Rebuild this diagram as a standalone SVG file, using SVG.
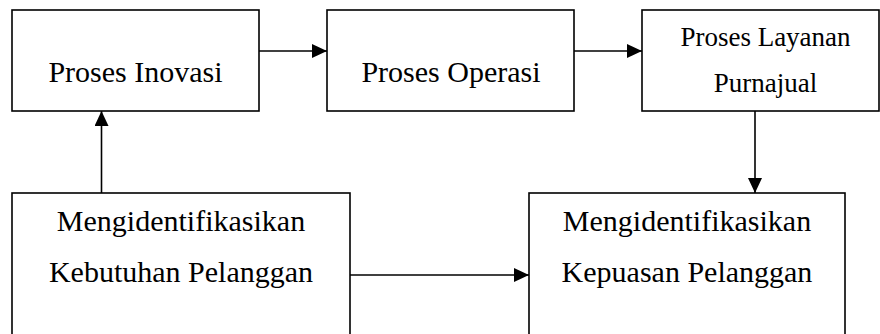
<svg xmlns="http://www.w3.org/2000/svg" width="880" height="334" viewBox="0 0 880 334">
<style>
.box{fill:#fff;stroke:#000;stroke-width:1.6}
.t{font-family:'Liberation Serif','Times New Roman','DejaVu Serif',serif;fill:#000;text-anchor:middle}
.line{stroke:#000;stroke-width:1.6;fill:none}
</style>
<defs>
<marker id="ah" markerUnits="userSpaceOnUse" markerWidth="16" markerHeight="14" refX="15" refY="7" orient="auto">
<path d="M0,0 L15,7 L0,14 Z" fill="#000"/>
</marker>
</defs>
<rect x="0" y="0" width="880" height="334" fill="#fff"/>
<g id="connectors">
<line class="line" x1="259" y1="51" x2="327" y2="51" marker-end="url(#ah)"/>
<line class="line" x1="574" y1="51" x2="642" y2="51" marker-end="url(#ah)"/>
<line class="line" x1="755" y1="111" x2="755" y2="193" marker-end="url(#ah)"/>
<line class="line" x1="101.5" y1="193" x2="101.5" y2="111" marker-end="url(#ah)"/>
<line class="line" x1="350" y1="275" x2="529" y2="275" marker-end="url(#ah)"/>
</g>
<g id="inovasi">
<rect class="box" x="12" y="10" width="247" height="101"/>
<text class="t" font-family="Liberation Serif, serif" x="135.5" y="82" font-size="30">Proses Inovasi</text>
</g>
<g id="operasi">
<rect class="box" x="327" y="10" width="247" height="101"/>
<text class="t" font-family="Liberation Serif, serif" x="451" y="82" font-size="30">Proses Operasi</text>
</g>
<g id="layanan">
<rect class="box" x="642" y="10" width="237" height="101"/>
<text class="t" font-family="Liberation Serif, serif" x="765.5" y="46" font-size="27">Proses Layanan</text>
<text class="t" font-family="Liberation Serif, serif" x="765.5" y="92" font-size="27">Purnajual</text>
</g>
<g id="kebutuhan">
<rect class="box" x="12" y="193" width="338" height="150"/>
<text class="t" font-family="Liberation Serif, serif" x="181" y="231" font-size="30">Mengidentifikasikan</text>
<text class="t" font-family="Liberation Serif, serif" x="181" y="282" font-size="30">Kebutuhan Pelanggan</text>
</g>
<g id="kepuasan">
<rect class="box" x="529" y="193" width="316" height="150"/>
<text class="t" font-family="Liberation Serif, serif" x="687" y="231" font-size="30">Mengidentifikasikan</text>
<text class="t" font-family="Liberation Serif, serif" x="687" y="282" font-size="30">Kepuasan Pelanggan</text>
</g>
</svg>
